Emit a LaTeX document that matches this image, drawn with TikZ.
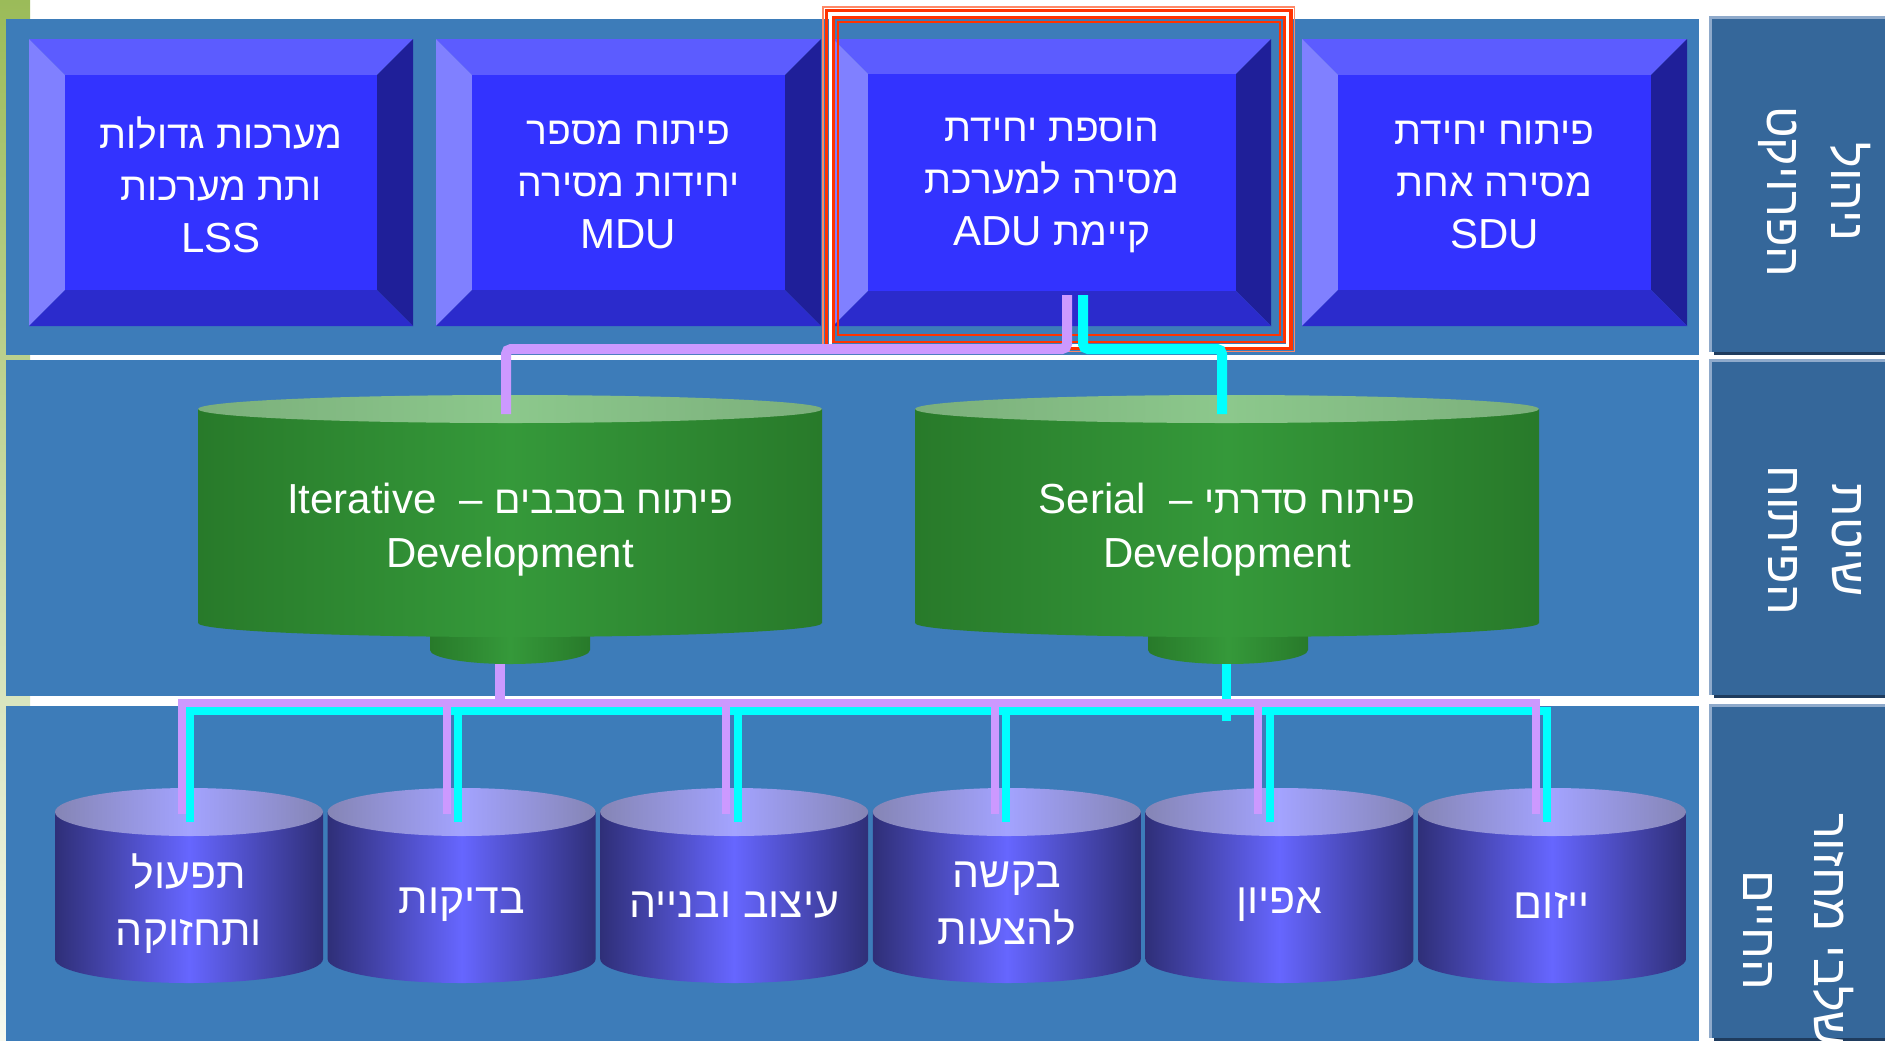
\documentclass[tikz,border=0pt]{standalone}
\usepackage{fontspec}
\setmainfont{Liberation Sans}
\newfontfamily\heb[Script=Hebrew,Scale=0.93]{Liberation Sans}
\TeXXeTstate=1
\newcommand\hb[1]{{\heb #1}}
\definecolor{bandc}{HTML}{3D7CB9}
\definecolor{pnl}{HTML}{35679A}
\definecolor{pnlborder}{HTML}{8FAACB}
\definecolor{pnlshadow}{HTML}{1F3C5E}
\definecolor{stripA}{HTML}{9BBB59}
\definecolor{stripB}{HTML}{F6F9F0}
\definecolor{bvface}{HTML}{3333FF}
\definecolor{bvtop}{HTML}{5C5CFF}
\definecolor{bvleft}{HTML}{8080FF}
\definecolor{bvright}{HTML}{1F1F99}
\definecolor{bvbottom}{HTML}{2B2BCC}
\definecolor{lav}{HTML}{CC99FF}
\definecolor{cyn}{HTML}{00FFFF}
\definecolor{redf}{HTML}{FF3300}
\definecolor{redl}{HTML}{FF8866}
\definecolor{gdark}{HTML}{287A2A}
\definecolor{gmid}{HTML}{35993A}
\definecolor{gtopE}{HTML}{7BAF7B}
\definecolor{gtopM}{HTML}{8CC88C}
\definecolor{bdark}{HTML}{2F2F78}
\definecolor{bmid}{HTML}{6666FF}
\definecolor{btopE}{HTML}{8585B5}
\definecolor{btopM}{HTML}{A3A3FF}
\tikzset{
  boxtxt/.style={text=white, align=center, inner sep=0pt, font=\fontsize{21pt}{26pt}\selectfont},
  cyltxt/.style={text=white, align=center, inner sep=0pt, font=\fontsize{21pt}{27pt}\selectfont},
  stagetxt/.style={text=white, align=center, inner sep=0pt, font=\fontsize{23pt}{28.5pt}\selectfont},
  lbltxt/.style={text=white, align=center, inner sep=0pt, rotate=-90, font=\fontsize{26pt}{32pt}\selectfont},
  lavtop/.style={draw=lav, line width=5pt, rounded corners=2.5pt},
  cyntop/.style={draw=cyn, line width=5pt, rounded corners=2.5pt},
  lavbus/.style={draw=lav, line width=4pt},
  cynbus/.style={draw=cyn, line width=4pt},
  gbody/.style={left color=gdark, right color=gdark, middle color=gmid},
  gtop/.style={left color=gtopE, right color=gtopE, middle color=gtopM},
  bbody/.style={left color=bdark, right color=bdark, middle color=bmid},
  btop/.style={left color=btopE, right color=btopE, middle color=btopM},
}
% bevelled box: x1 y1 x2 y2 bevel
\newcommand\bevbox[5]{%
  \fill[bvtop] (#1,#2) -- (#3,#2) -- ({#3-#5},{#2+#5}) -- ({#1+#5},{#2+#5}) -- cycle;
  \fill[bvleft] (#1,#2) -- ({#1+#5},{#2+#5}) -- ({#1+#5},{#4-#5}) -- (#1,#4) -- cycle;
  \fill[bvright] (#3,#2) -- (#3,#4) -- ({#3-#5},{#4-#5}) -- ({#3-#5},{#2+#5}) -- cycle;
  \fill[bvbottom] (#1,#4) -- (#3,#4) -- ({#3-#5},{#4-#5}) -- ({#1+#5},{#4-#5}) -- cycle;
  \fill[bvface] ({#1+#5},{#2+#5}) rectangle ({#3-#5},{#4-#5});
}
% cylinder: cx rx top bottom ry bodystyle topstyle
\newcommand\cyl[7]{%
  \shade[#6] ({#1-#2},#3) -- ({#1-#2},#4) arc[start angle=180, end angle=0, x radius=#2, y radius=#5] -- ({#1+#2},#3) -- cycle;
  \shade[#7] (#1,#3) ellipse [x radius=#2, y radius=#5];
}
\newcommand\lblpanel[2]{%
  \fill[pnlshadow] (1714,{#1+3}) rectangle (1930,{#2+3});
  \fill[pnlborder] (1709,#1) rectangle (1930,#2);
  \fill[pnl] (1712,{#1+3}) rectangle (1930,#2);
}
\begin{document}
\begin{tikzpicture}[x=0.5pt,y=-0.5pt]
\useasboundingbox (0,0) rectangle (1885,1040);
\clip (0,0) rectangle (1885,1040);
\fill[white] (0,0) rectangle (1885,1040);
\shade[top color=stripA, bottom color=stripB] (0,0) rectangle (30,1040);
% bands
\fill[bandc] (6,19) rectangle (1699,355);
\fill[bandc] (6,360) rectangle (1699,696);
\fill[bandc] (6,706) rectangle (1699,1050);
% label panels
\lblpanel{16}{352}
\lblpanel{359}{695}
\lblpanel{704}{1038}
\node[lbltxt] (lblA) at (1815,192) {\beginR\hb{ניהול}\endR\\\beginR\hb{הפרויקט}\endR};
\node[lbltxt] (lblB) at (1815,540) {\beginR\hb{שיטת}\endR\\\beginR\hb{הפיתוח}\endR};
\node[lbltxt, font=\fontsize{26pt}{35.5pt}\selectfont] (lblC) at (1799,930) {\beginR\hb{שלבי מחזור}\endR\\\beginR\hb{החיים}\endR};
% top bevelled boxes
\bevbox{29}{39}{413}{326}{36}
\bevbox{436}{39}{821}{326}{36}
\bevbox{833}{39}{1271}{326}{35}
\bevbox{1302}{39}{1687}{326}{36}
\node[boxtxt] (lss) at (221,185) {\beginR\hb{מערכות גדולות}\endR\\\beginR\hb{ותת מערכות}\endR\\LSS};
\node[boxtxt] (mdu) at (628.5,185) {\beginR\hb{פיתוח מספר}\endR\\\beginR\hb{יחידות מסירה}\endR\\MDU};
\node[boxtxt] (adu) at (1052,185) {\beginR\hb{הוספת יחידת}\endR\\\beginR\hb{מסירה למערכת}\endR\\\beginR\hb{קיימת} \beginL ADU\endL\endR};
\node[boxtxt] (sdu) at (1494.5,185) {\beginR\hb{פיתוח יחידת}\endR\\\beginR\hb{מסירה אחת}\endR\\SDU};
% red frame
\draw[redl, line width=0.8pt] (823,7) rectangle (1294.5,351.5);
\draw[redf, line width=1.8pt] (826.5,10.5) rectangle (1291,348.5);
\draw[white, line width=1.5pt] (830.5,14.5) rectangle (1287.5,345);
\draw[redf, line width=1.3pt] (833.5,17.5) rectangle (1284.5,342);
\draw[redf, line width=1pt] (838,22) rectangle (1280,335);
% green cylinders
\cyl{510}{80}{600}{650}{14}{gbody}{gbody}
\cyl{1228}{80}{600}{650}{14}{gbody}{gbody}
\cyl{510}{312}{409}{623}{14}{gbody}{gtop}
\cyl{1227}{312}{409}{623}{14}{gbody}{gtop}
\node[cyltxt] (iter) at (510,530) {\beginR\hb{פיתוח בסבבים} –\ \ \beginL Iterative\endL\endR\\Development};
\node[cyltxt] (serial) at (1227,530) {\beginR\hb{פיתוח סדרתי} –\ \ \beginL Serial\endL\endR\\Development};
% bottom cylinders
\foreach \cx in {189,461.6,734.2,1006.8,1279.4,1552}{
  \cyl{\cx}{134}{812}{959}{24}{bbody}{btop}
}
\node[stagetxt] (s1) at (189,904) {\beginR\hb{תפעול}\endR\\\beginR\hb{ותחזוקה}\endR};
\node[stagetxt] (s2) at (461.6,905) {\beginR\hb{בדיקות}\endR};
\node[stagetxt] (s3) at (734.2,905) {\beginR\hb{עיצוב ובנייה}\endR};
\node[stagetxt] (s4) at (1006.8,904) {\beginR\hb{בקשה}\endR\\\beginR\hb{להצעות}\endR};
\node[stagetxt] (s5) at (1279.4,905) {\beginR\hb{אפיון}\endR};
\node[stagetxt] (s6) at (1552,905) {\beginR\hb{ייזום}\endR};
% connector end points
\coordinate (aduL) at (1067,295);
\coordinate (aduC) at (1083,295);
\coordinate (iterTop) at (506,414);
\coordinate (serTop) at (1222,414);
\coordinate (iterBot) at (500,664);
\coordinate (iterBus) at (500,706);
\coordinate (serBot) at (1226.5,664);
\coordinate (serBus) at (1226.5,721);
% top connectors
\draw[lavtop] (aduL) -- ++(0,54) -| (iterTop);
\draw[cyntop] (aduC) -- ++(0,54) -| (serTop);
% lower connectors
\draw[draw=cyn, line width=4.5pt] (serBot) -- (serBus);
\draw[cynbus] (190,822) -- (190,711) -- (1547,711) -- (1547,822);
\foreach \x in {458,738,1006,1270}{ \draw[cynbus] (\x,711) -- (\x,822); }
\draw[draw=lav, line width=5pt] (iterBot) -- (iterBus);
\draw[lavbus] (182,814) -- (182,702.5) -- (1536,702.5) -- (1536,814);
\foreach \x in {447,726,995,1258}{ \draw[lavbus] (\x,702.5) -- (\x,814); }
\end{tikzpicture}
\end{document}
